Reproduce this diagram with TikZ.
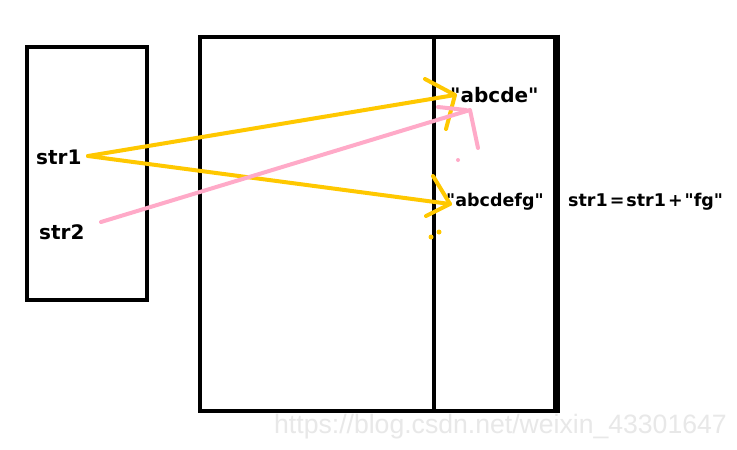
\documentclass[tikz,border=0pt]{standalone}
\usepackage{fontspec}
\setmainfont{DejaVu Sans}
\newfontfamily\wmfont{Liberation Sans}
\definecolor{penyellow}{RGB}{255,200,0}
\definecolor{penpink}{RGB}{255,170,200}
\tikzset{
  boxline/.style={draw=black, line width=4pt},
  yellowpen/.style={draw=penyellow, line width=4pt, line cap=round, line join=round},
  pinkpen/.style={draw=penpink, line width=4pt, line cap=round, line join=round},
  bigtxt/.style={inner sep=0pt, font=\fontsize{20}{22}\selectfont\bfseries},
  smalltxt/.style={inner sep=0pt, font=\fontsize{17.5}{19}\selectfont\bfseries},
}
\begin{document}
\begin{tikzpicture}[x=1pt,y=-1pt]
\useasboundingbox[fill=white] (0,0) rectangle (737,450);
% boxes
\draw[boxline] (27,47) rectangle (147,300);
\draw[boxline] (200,37) rectangle (556,411);
\draw[draw=black, line width=7pt] (556,34.5) -- (556,413);
\draw[boxline] (434,37) -- (434,411);
% texts
\node[bigtxt, anchor=west] (s1) at (36,157) {str1};
\node[bigtxt, anchor=west] (s2) at (39,232) {str2};
\node[bigtxt, anchor=west] (abc) at (450,95) {\textquotedbl abcde\textquotedbl};
\node[smalltxt, anchor=west] (abcfg) at (446,202) {\textquotedbl abcdefg\textquotedbl};
\node[smalltxt, anchor=west] (op) at (568,202) {str1\kern2pt=\kern2pt str1\kern2pt+\kern2pt\textquotedbl fg\textquotedbl};
% watermark
\node[inner sep=0pt, anchor=west, text=black!9, font=\fontsize{26.6}{28}\wmfont] (wm) at (274,427) {https://blog.csdn.net/weixin\_43301647};
% coordinates
\coordinate (p1) at (88,156);
\coordinate (t1) at (455,95);
\coordinate (t2) at (450,204);
\coordinate (q1) at (101,222);
\coordinate (q2) at (470,110);
% yellow arrows
\draw[yellowpen] (p1) -- (t1);
\draw[yellowpen] (425,79) -- (t1) -- (446,129);
\draw[yellowpen] (p1) -- (t2);
\draw[yellowpen] (433,176) -- (t2) -- (426,216);
\fill[penyellow] (431,237) circle (2.5pt);
\fill[penyellow] (439,232) circle (2.5pt);
% pink
\draw[pinkpen] (q1) -- (q2) -- (478,148);
\draw[pinkpen] (438,107) -- (466,110);
\fill[penpink] (458,160) circle (2pt);
\end{tikzpicture}
\end{document}
